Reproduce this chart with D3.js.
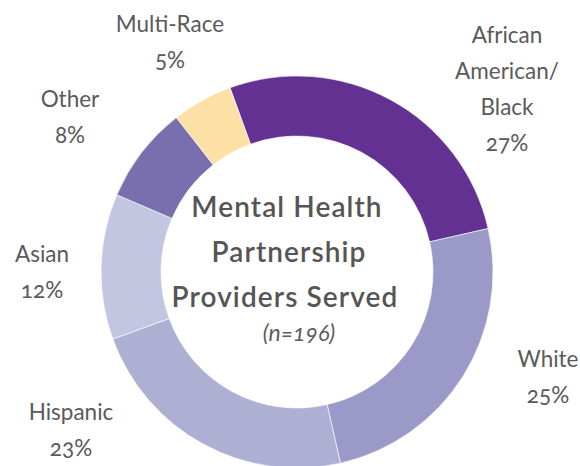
<!DOCTYPE html>
<html>
<head>
<meta charset="utf-8">
<script src="https://cdn.jsdelivr.net/npm/d3@7/dist/d3.min.js"></script>
<style>
  html, body { margin: 0; padding: 0; background: #fff; }
  svg { display: block; }
  text { font-family: Lato, "Open Sans", sans-serif; font-variant-numeric: oldstyle-nums; font-feature-settings: "onum" 1; }
</style>
</head>
<body>
<script>
// ---- data ----
const categories = ["African American/Black", "White", "Hispanic", "Asian", "Other", "Multi-Race"];
const labelLines = [["African", "American/", "Black"], ["White"], ["Hispanic"], ["Asian"], ["Other"], ["Multi-Race"]];
const values = [27, 25, 23, 12, 8, 5];
const colors = ["#633192", "#9b99c7", "#adb0d2", "#c3c6e0", "#7a6fae", "#fde0a5"];
const titleLines = ["Mental Health", "Partnership", "Providers Served"];
const subtitle = "(n=196)";

// ---- layout ----
const W = 580, H = 466;
const cx = 297, cy = 272, rIn = 136, rOut = 196;
const startDeg = -20;
// label anchors (center x, first baseline y)
const labelPos = [[507, 43], [548, 367], [71, 420], [42, 262], [70, 107], [170, 32]];
const lineH = 36;

const svg = d3.select("body").append("svg").attr("width", W).attr("height", H);

const pie = d3.pie().sort(null).value(d => d)
  .startAngle(startDeg * Math.PI / 180)
  .endAngle((startDeg + 360) * Math.PI / 180);
const arc = d3.arc().innerRadius(rIn).outerRadius(rOut);
const color = d3.scaleOrdinal().domain(categories).range(colors);

const g = svg.append("g").attr("transform", `translate(${cx},${cy})`);
g.selectAll("path").data(pie(values)).join("path")
  .attr("d", arc)
  .attr("fill", (d, i) => color(categories[i]))
  .attr("stroke", "#fff")
  .attr("stroke-width", 0.6);

// labels
const fmt = d => d + "%";
categories.forEach((c, i) => {
  const [x, y] = labelPos[i];
  const lines = labelLines[i].concat([fmt(values[i])]);
  const t = svg.append("text").attr("text-anchor", "middle")
    .attr("fill", "#5a5a5a").attr("font-size", 22.5);
  lines.forEach((l, j) => {
    t.append("tspan").attr("x", x).attr("y", y + j * lineH).text(l);
  });
});

// center title
const tt = svg.append("text").attr("text-anchor", "middle")
  .attr("fill", "#555555").attr("font-size", 28).attr("font-weight", 600)
  .attr("letter-spacing", 1.1);
const titleY = [217, 262, 307];
const titleX = [287, 289, 285];
titleLines.forEach((l, j) => {
  tt.append("tspan").attr("x", titleX[j]).attr("y", titleY[j]).text(l);
});
svg.append("text").attr("text-anchor", "middle")
  .attr("x", 299).attr("y", 341)
  .attr("fill", "#5c5c5c").attr("font-size", 23).attr("font-style", "italic")
  .attr("font-weight", 400)
  .text(subtitle);
</script>
</body>
</html>
